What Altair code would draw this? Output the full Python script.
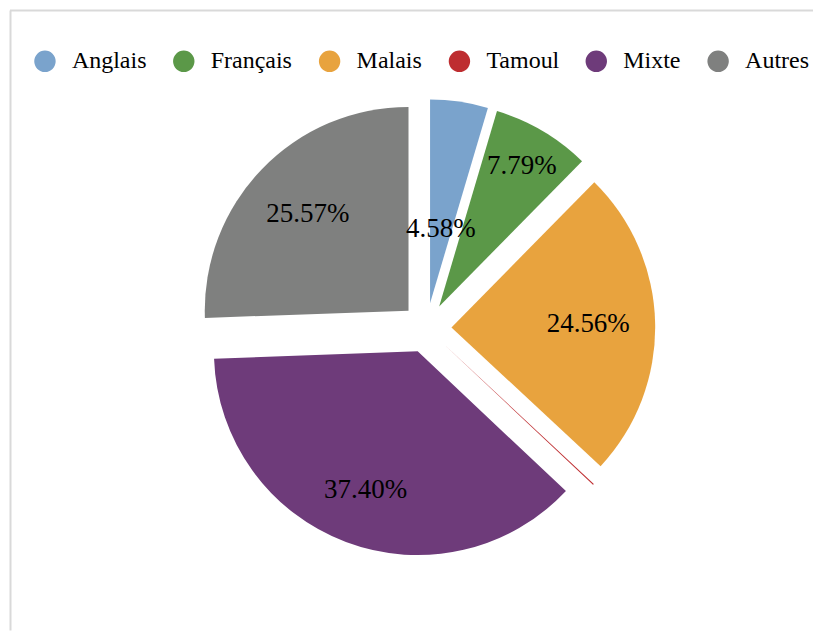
import altair as alt
import pandas as pd

# ---- data ----
categories = ["Anglais", "Français", "Malais", "Tamoul", "Mixte", "Autres"]
shares = [4.58, 7.79, 24.56, 0.10, 37.40, 25.57]
label_texts = ["4.58%", "7.79%", "24.56%", "", "37.40%", "25.57%"]

# ---- style ----
palette = ["#7AA3CC", "#5B9848", "#E8A33E", "#BE2D30", "#6E3B7A", "#7F807F"]
label_radius = [75, 163, 137, 0, 148, 140]   # label distance from slice tip (px)

W, H = 806, 623
CX, CY = 419, 320      # pie centre in plot coordinates
R = 204                # pie radius
EXPLODE = 25           # explosion distance
TOTAL = sum(shares)

df = pd.DataFrame({
    "cat": categories,
    "share": shares,
    "label": label_texts,
    "idx": list(range(len(categories))),
    "lr": label_radius,
})

base = (
    alt.Chart(df)
    .transform_window(cum="sum(share)", sort=[alt.SortField("idx")], frame=[None, 0])
    .transform_joinaggregate(total="sum(share)")
    .transform_calculate(
        t0="datum.cum - datum.share",
        tm="datum.cum - datum.share / 2",
    )
    .transform_calculate(ang="2 * PI * datum.tm / datum.total")
    .transform_calculate(
        cx=f"{CX} + {EXPLODE} * sin(datum.ang)",
        cy=f"{CY} - {EXPLODE} * cos(datum.ang)",
    )
)

legend = alt.Legend(
    orient="none", legendX=25, legendY=41, direction="horizontal", columns=6,
    title=None, symbolType="circle", symbolSize=460, symbolStrokeWidth=0,
    labelFont="Liberation Serif", labelFontSize=24, labelColor="black",
    labelOffset=15, columnPadding=25, labelLimit=0,
)

theta_scale = alt.Scale(domain=[0, TOTAL], nice=False, zero=True)

arcs = base.mark_arc(outerRadius=R).encode(
    theta=alt.Theta("t0:Q", scale=theta_scale, stack=None),
    theta2="cum:Q",
    x=alt.X("cx:Q", scale=None, axis=None, stack=None),
    y=alt.Y("cy:Q", scale=None, axis=None, stack=None),
    color=alt.Color("cat:N", scale=alt.Scale(domain=categories, range=palette),
                    sort=categories, legend=legend),
    order=alt.Order("idx:Q"),
)

labels = base.mark_text(
    font="Liberation Serif", fontSize=27, color="black", align="center", baseline="middle"
).encode(
    theta=alt.Theta("tm:Q", scale=theta_scale, stack=None),
    radius=alt.Radius("lr:Q", scale=None),
    x=alt.X("cx:Q", scale=None, axis=None, stack=None),
    y=alt.Y("cy:Q", scale=None, axis=None, stack=None),
    text="label:N",
)

one = pd.DataFrame({"k": [0]})
border_top = alt.Chart(one).mark_rule(color="#D9D9D9", strokeWidth=2).encode(
    x=alt.value(2), x2=alt.value(W), y=alt.value(2)
)
border_left = alt.Chart(one).mark_rule(color="#D9D9D9", strokeWidth=2).encode(
    x=alt.value(2.5), y=alt.value(2), y2=alt.value(H)
)

chart = (
    alt.layer(border_top, border_left, arcs, labels)
    .properties(width=W, height=H, padding=0, background="white")
    .configure_view(stroke=None)
)

chart.save("out.html", embed_options={"renderer": "svg", "actions": False})
